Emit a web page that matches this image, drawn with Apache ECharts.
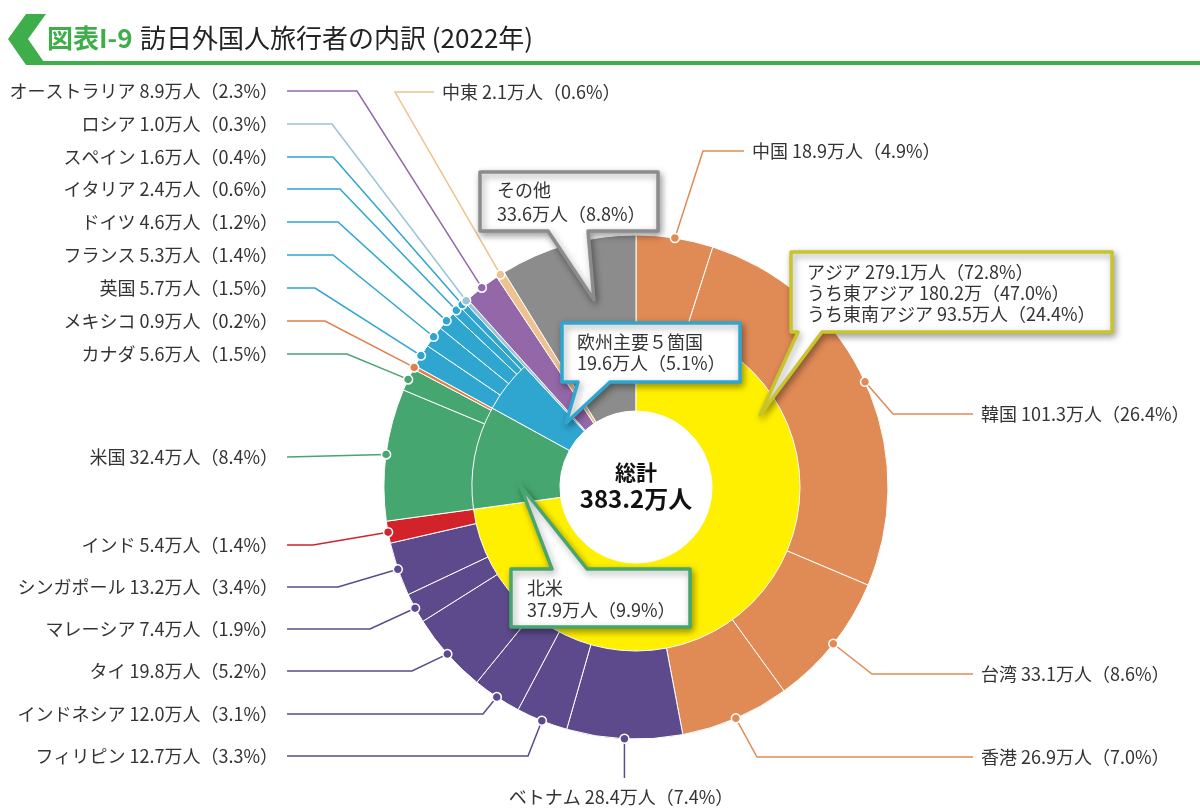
<!DOCTYPE html>
<html>
<head>
<meta charset="utf-8">
<script src="https://cdn.jsdelivr.net/npm/echarts@6/dist/echarts.min.js"></script>
<style>
html, body { margin: 0; padding: 0; background: #fff; }
#chart { width: 1200px; height: 808px; }
</style>
</head>
<body>
<div id="chart"></div>
<script>
// 国・地域別 訪日外国人旅行者数 (万人) と構成比 (%)
var countries = ['中国', '韓国', '台湾', '香港', 'ベトナム', 'フィリピン', 'インドネシア', 'タイ',
	'マレーシア', 'シンガポール', 'インド', '米国', 'カナダ', 'メキシコ', '英国', 'フランス', 'ドイツ',
	'イタリア', 'スペイン', 'ロシア', 'オーストラリア', '中東', 'その他'];
var visitors = [18.9, 101.3, 33.1, 26.9, 28.4, 12.7, 12.0, 19.8, 7.4, 13.2, 5.4, 32.4, 5.6, 0.9,
	5.7, 5.3, 4.6, 2.4, 1.6, 1.0, 8.9, 2.1, 33.6];
var shares = [4.9, 26.4, 8.6, 7.0, 7.4, 3.3, 3.1, 5.2, 1.9, 3.4, 1.4, 8.4, 1.5, 0.2, 1.5, 1.4, 1.2,
	0.6, 0.4, 0.3, 2.3, 0.6, 8.8];
var groupOfCountry = ['東アジア', '東アジア', '東アジア', '東アジア', '東南アジア', '東南アジア',
	'東南アジア', '東南アジア', '東南アジア', '東南アジア', 'インド', '北米', '北米', 'メキシコ',
	'欧州', '欧州', '欧州', '欧州', '欧州', 'ロシア', 'オーストラリア', '中東', 'その他'];
var regionOfCountry = ['アジア', 'アジア', 'アジア', 'アジア', 'アジア', 'アジア', 'アジア', 'アジア',
	'アジア', 'アジア', 'アジア', '北米', '北米', '北米', '欧州', '欧州', '欧州', '欧州', '欧州',
	'', '', '', ''];

// 内側の輪 (地域)
var regions = ['アジア', '北米', '欧州'];

// 吹き出しの文言
var calloutTitles = ['アジア', '北米', '欧州主要５箇国', 'その他'];
var calloutVisitors = [279.1, 37.9, 19.6, 33.6];
var calloutShares = [72.8, 9.9, 5.1, 8.8];
var asiaSubNames = ['うち東アジア', 'うち東南アジア'];
var asiaSubVisitors = [180.2, 93.5];
var asiaSubShares = [47.0, 24.4];
var asiaSubUnits = ['万', '万人'];

var groupColors = {
	'東アジア': '#E08A56',
	'東南アジア': '#5D4A8C',
	'インド': '#D2232A',
	'北米': '#46A66F',
	'メキシコ': '#E07E4C',
	'欧州': '#2FA6CF',
	'ロシア': '#9CC3D8',
	'オーストラリア': '#9467A8',
	'中東': '#EDC28F',
	'その他': '#8C8C8C'
};
var regionColors = { 'アジア': '#FFF000', '北米': '#46A66F', '欧州': '#2FA6CF' };

// ラベル配置 (レイアウト)
var LEFT_TEXT = 278, LEFT_END = 287;
var labelSpots = {
	'オーストラリア': { side: 'left', y: 91, elbow: 357 },
	'ロシア': { side: 'left', y: 124, elbow: 332 },
	'スペイン': { side: 'left', y: 157, elbow: 333 },
	'イタリア': { side: 'left', y: 189, elbow: 340 },
	'ドイツ': { side: 'left', y: 222, elbow: 338 },
	'フランス': { side: 'left', y: 255, elbow: 333 },
	'英国': { side: 'left', y: 288, elbow: 315 },
	'メキシコ': { side: 'left', y: 321, elbow: 325 },
	'カナダ': { side: 'left', y: 354, elbow: 347 },
	'米国': { side: 'left', y: 457 },
	'インド': { side: 'left', y: 545, elbow: 313 },
	'シンガポール': { side: 'left', y: 587, elbow: 338 },
	'マレーシア': { side: 'left', y: 629, elbow: 370 },
	'タイ': { side: 'left', y: 671, elbow: 412 },
	'インドネシア': { side: 'left', y: 714, elbow: 483 },
	'フィリピン': { side: 'left', y: 756, elbow: 528 },
	'ベトナム': { side: 'bottom', x: 621, y: 797, elbowY: 778 },
	'香港': { side: 'right', x: 981, y: 757, elbow: 757 },
	'台湾': { side: 'right', x: 981, y: 674, elbow: 872 },
	'韓国': { side: 'right', x: 981, y: 414, elbow: 893 },
	'中国': { side: 'right', x: 752, y: 151, elbow: 703 },
	'中東': { side: 'right', x: 442, y: 92, elbow: 395 }
};

var CENTER = [636, 487];
var total = 0;
visitors.forEach(function(v) { total += v; });

var outerData = [];
var dotData = [];
var cum = 0;
for (var i = 0; i < countries.length; i++) {
	var color = groupColors[groupOfCountry[i]];
	var item = {
		name : countries[i],
		value : visitors[i],
		itemStyle : { color : color },
		labelLine : { lineStyle : { color : color } }
	};
	if (!labelSpots[countries[i]]) {
		item.label = { show : false };
		item.labelLine = { show : false };
	} else {
		dotData.push({ value : [1, cum + visitors[i] / 2], itemStyle : { color : color } });
	}
	outerData.push(item);
	cum += visitors[i];
}

var innerData = [];
var innerSum = 0;
regions.forEach(function(r) {
	var s = 0;
	for (var i = 0; i < visitors.length; i++) {
		if (regionOfCountry[i] === r) s += visitors[i];
	}
	innerSum += s;
	innerData.push({ name : r, value : s, itemStyle : { color : regionColors[r] } });
});
innerData.push({
	name : 'rest',
	value : total - innerSum,
	itemStyle : { color : 'rgba(0,0,0,0)', borderWidth : 0 }
});

function fmt(v) { return v.toFixed(1); }

var FONT = '"Noto Sans CJK JP", "Noto Sans", sans-serif';

function bubble(box, tail, color, lines, textX, firstY, lineH) {
	var x0 = box[0], y0 = box[1], x1 = box[2], y1 = box[3];
	var pts;
	if (tail.edge === 'bottom') {
		pts = [[x0, y0], [x1, y0], [x1, y1], [tail.b1, y1], tail.tip, [tail.b0, y1], [x0, y1]];
	} else {
		pts = [[x0, y0], [tail.b0, y0], tail.tip, [tail.b1, y0], [x1, y0], [x1, y1], [x0, y1]];
	}
	return [{
		type : 'polygon',
		z : 20,
		shape : { points : pts },
		style : {
			fill : '#fff',
			stroke : color,
			lineWidth : 3.5,
			lineJoin : 'round',
			shadowBlur : 7,
			shadowColor : 'rgba(0,0,0,0.35)',
			shadowOffsetX : 2,
			shadowOffsetY : 3
		}
	}, {
		type : 'text',
		z : 21,
		style : {
			text : lines.join('\n'),
			x : textX,
			y : firstY - lineH / 2,
			font : '18px ' + FONT,
			lineHeight : lineH,
			fill : '#333',
			verticalAlign : 'top'
		}
	}];
}

var asiaLines = [calloutTitles[0] + ' ' + fmt(calloutVisitors[0]) + '万人（' + fmt(calloutShares[0]) + '%）'];
for (var k = 0; k < asiaSubNames.length; k++) {
	asiaLines.push(asiaSubNames[k] + ' ' + fmt(asiaSubVisitors[k]) + asiaSubUnits[k] + '（' + fmt(asiaSubShares[k]) + '%）');
}
function twoLines(j) {
	return [calloutTitles[j], fmt(calloutVisitors[j]) + '万人（' + fmt(calloutShares[j]) + '%）'];
}

var graphics = [
	{ type : 'rect', shape : { x : 38, y : 61, width : 1162, height : 4 }, style : { fill : '#3EAE4A' } },
	{ type : 'polygon', shape : { points : [[26, 14], [46, 14], [28, 39], [46, 65], [26, 65], [8, 39]] },
		style : { fill : '#3EAE4A' } },
	{ type : 'text', style : { text : '図表I-9', x : 47, y : 38, verticalAlign : 'middle',
		font : 'bold 26px ' + FONT, fill : '#3EAE4A' } },
	{ type : 'text', style : { text : '訪日外国人旅行者の内訳 (2022年)', x : 140, y : 38, verticalAlign : 'middle',
		font : '26px ' + FONT, fill : '#222' } },
	{ type : 'text', z : 10, style : { text : '総計', x : CENTER[0], y : 472, align : 'center', verticalAlign : 'middle',
		font : 'bold 21px ' + FONT, fill : '#111' } },
	{ type : 'text', z : 10, style : { text : fmt(total) + '万人', x : CENTER[0], y : 499, align : 'center',
		verticalAlign : 'middle', font : 'bold 24px ' + FONT, fill : '#111' } }
];
graphics = graphics
	.concat(bubble([480, 172, 658, 231], { edge : 'bottom', b0 : 548, b1 : 588, tip : [594, 300] },
		groupColors['その他'], twoLines(3), 497, 190, 24))
	.concat(bubble([791, 252, 1112, 332], { edge : 'bottom', b0 : 798, b1 : 822, tip : [760, 415] },
		'#C8C42C', asiaLines, 807, 272, 21))
	.concat(bubble([562, 323, 740, 382], { edge : 'bottom', b0 : 578, b1 : 610, tip : [566, 423] },
		regionColors['欧州'], twoLines(2), 577, 342, 21))
	.concat(bubble([511, 569, 690, 627], { edge : 'top', b0 : 552, b1 : 587, tip : [520, 485] },
		regionColors['北米'], twoLines(1), 527, 588, 22));

var chart = echarts.init(document.getElementById('chart'));

var option = {
	animation : false,
	backgroundColor : '#fff',
	polar : { center : CENTER, radius : 252 },
	angleAxis : {
		type : 'value', min : 0, max : total, startAngle : 90, clockwise : true,
		axisLine : { show : false }, axisTick : { show : false }, axisLabel : { show : false },
		splitLine : { show : false }
	},
	radiusAxis : {
		type : 'value', min : 0, max : 1,
		axisLine : { show : false }, axisTick : { show : false }, axisLabel : { show : false },
		splitLine : { show : false }
	},
	graphic : graphics,
	series : [ {
		name : '国・地域',
		type : 'pie',
		center : CENTER,
		radius : [76, 252],
		startAngle : 90,
		avoidLabelOverlap : false,
		emphasis : { disabled : true },
		itemStyle : { borderColor : '#fff', borderWidth : 1 },
		label : {
			show : true,
			position : 'outside',
			color : '#333',
			fontSize : 18,
			fontFamily : FONT,
			formatter : function(p) {
				var i = p.dataIndex;
				return countries[i] + ' ' + fmt(visitors[i]) + '万人（' + fmt(shares[i]) + '%）';
			}
		},
		labelLine : { show : true, length : 10, length2 : 10, lineStyle : { width : 1.5 } },
		labelLayout : function(p) {
			var s = labelSpots[countries[p.dataIndex]];
			if (!s || !p.labelLinePoints) return {};
			var a = p.labelLinePoints[0];
			if (s.side === 'left') {
				var pts = s.elbow ? [a, [s.elbow, s.y], [LEFT_END, s.y]] : [a, [LEFT_END, s.y]];
				return { x : LEFT_TEXT, y : s.y, align : 'right', verticalAlign : 'middle', labelLinePoints : pts };
			}
			if (s.side === 'bottom') {
				return { x : s.x, y : s.y, align : 'center', verticalAlign : 'middle',
					labelLinePoints : [a, [a[0], s.elbowY]] };
			}
			return { x : s.x, y : s.y, align : 'left', verticalAlign : 'middle',
				labelLinePoints : [a, [s.elbow, s.y], [s.x - 8, s.y]] };
		},
		data : outerData
	}, {
		name : '地域',
		type : 'pie',
		center : CENTER,
		radius : [76, 164],
		startAngle : 90,
		silent : true,
		emphasis : { disabled : true },
		itemStyle : { borderColor : '#fff', borderWidth : 1 },
		label : { show : false },
		labelLine : { show : false },
		data : innerData
	}, {
		name : 'dots',
		type : 'scatter',
		coordinateSystem : 'polar',
		symbol : 'circle',
		symbolSize : 9,
		z : 5,
		silent : true,
		itemStyle : { borderColor : '#fff', borderWidth : 1.5, opacity : 1 },
		data : dotData
	} ]
};

chart.setOption(option);
</script>
</body>
</html>
